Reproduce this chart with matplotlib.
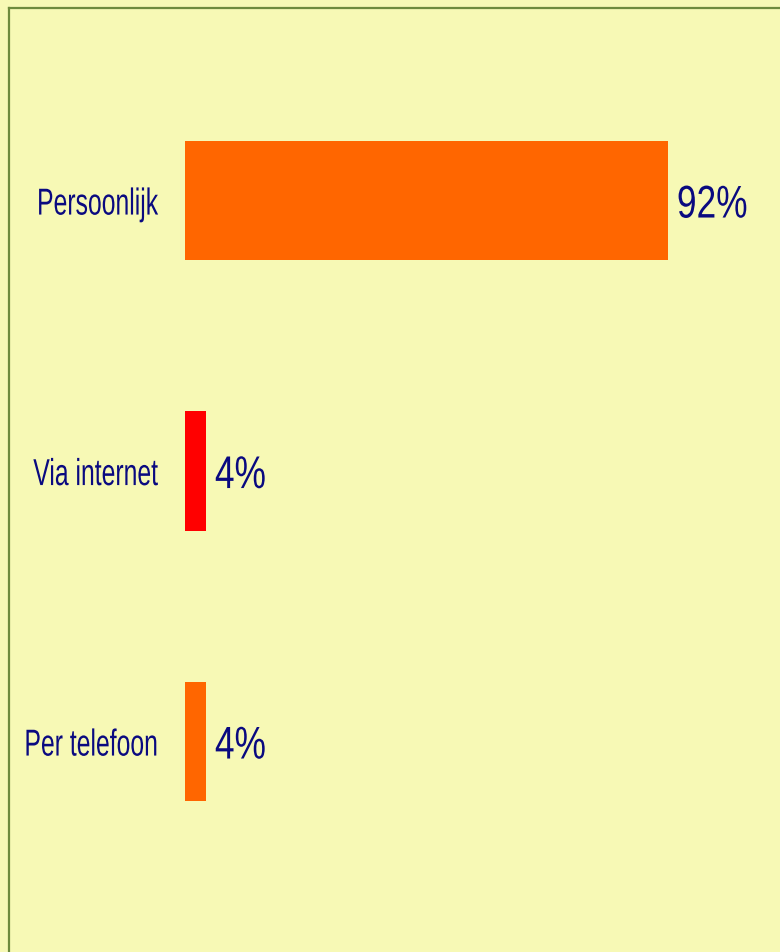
import matplotlib
matplotlib.use('Agg')
from matplotlib import pyplot as plt
from matplotlib.font_manager import FontProperties
from matplotlib.lines import Line2D
from matplotlib.patheffects import AbstractPathEffect
from matplotlib.transforms import Affine2D

categories = ['Persoonlijk', 'Via internet', 'Per telefoon']
values = [92, 4, 4]
value_labels = ['92%', '4%', '4%']
bar_colors = ['#FF6600', '#FF0000', '#FF6600']

bg = '#F7F9B5'
navy = '#0A0A80'
font = ['Liberation Sans', 'DejaVu Sans']


class Squeeze(AbstractPathEffect):
    """Narrow the glyphs horizontally around a fixed x (display px)."""

    def __init__(self, sx, x0):
        super().__init__()
        self.sx = sx
        self.x0 = x0

    def draw_path(self, renderer, gc, tpath, affine, rgbFace=None):
        sq = Affine2D().translate(-self.x0, 0).scale(self.sx, 1).translate(self.x0, 0)
        renderer.draw_path(gc, tpath, affine + sq, rgbFace)


fig = plt.figure(figsize=(7.8, 9.52), dpi=100, facecolor=bg)
ax = fig.add_axes([0, 0, 1, 1], facecolor=bg)

ax.set_xlim(-185 / 5.25, (780 - 185) / 5.25)
ax.set_ylim((952 - 200.5) / 270.5, -200.5 / 270.5)
ax.axis('off')

ypos = list(range(len(categories)))
ax.barh(ypos, values, height=0.44, color=bar_colors, left=0)

renderer = fig.canvas.get_renderer()
label_fp = FontProperties(family=font, size=27)
label_sx = 0.66
label_right = ax.transData.transform((-27 / 5.25, 0))[0]

for y, v, lab, cat in zip(ypos, values, value_labels, categories):
    nx = v + 1.7
    px = ax.transData.transform((nx, y))[0]
    ax.text(nx, y + 0.063, lab, va='baseline', ha='left', color=navy,
            fontsize=33, family=font, path_effects=[Squeeze(0.77, px)])

    # narrowed label must end at label_right; keep the text box on the page
    w = renderer.get_text_width_height_descent(cat, label_fp, ismath=False)[0]
    drawn_left = label_right - label_sx * w
    left = max(3.0, (drawn_left + label_right) / 2 - w / 2)
    anchor = (label_right - label_sx * (left + w)) / (1 - label_sx)
    ax.text(ax.transData.inverted().transform((left, 0))[0], y + 0.052, cat,
            va='baseline', ha='left', color=navy, fontproperties=label_fp,
            path_effects=[Squeeze(label_sx, anchor)])

# frame (only left and top edges fall inside the picture)
fig.add_artist(Line2D([8.5 / 780, 8.5 / 780], [0, 1 - 7.5 / 952],
                      transform=fig.transFigure, color='#6E8B3D', lw=1.6))
fig.add_artist(Line2D([8.5 / 780, 1], [1 - 7.5 / 952, 1 - 7.5 / 952],
                      transform=fig.transFigure, color='#6E8B3D', lw=1.6))

fig.savefig('out.png', dpi=100, facecolor=bg)
